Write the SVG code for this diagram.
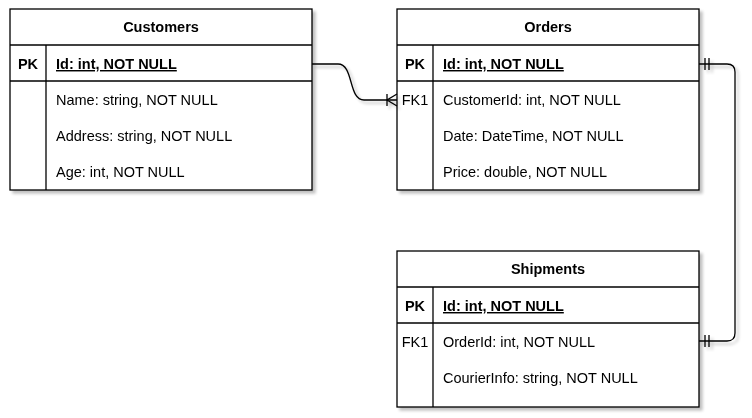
<svg xmlns="http://www.w3.org/2000/svg" width="752" height="418" viewBox="0 0 752 418">
<defs>
<filter id="sh" x="-10%" y="-10%" width="130%" height="130%">
<feGaussianBlur in="SourceAlpha" stdDeviation="1.5"/>
<feOffset dx="3" dy="3" result="b"/>
<feComponentTransfer><feFuncA type="linear" slope="0.25"/></feComponentTransfer>
<feMerge><feMergeNode/><feMergeNode in="SourceGraphic"/></feMerge>
</filter>
</defs>
<style>
.box{fill:#fff;stroke:#000;stroke-width:1.3}
.ln{stroke:#000;stroke-width:1.3;fill:none}
text{font-family:"Liberation Sans",Arial,sans-serif;font-size:14.5px;fill:#000}
.t{font-weight:bold;text-anchor:middle}
.k{font-weight:bold;text-anchor:middle}
.f{text-anchor:middle}
.pk{font-weight:bold;text-decoration:underline}
.c{stroke:#000;stroke-width:1.3;fill:none}
</style>
<g id="customers" filter="url(#sh)">
<rect class="box" x="10" y="9" width="302" height="181"/>
<line class="ln" x1="10" y1="45" x2="312" y2="45"/>
<line class="ln" x1="10" y1="81" x2="312" y2="81"/>
<line class="ln" x1="46" y1="45" x2="46" y2="190"/>
<text class="t" x="161" y="32">Customers</text>
<text class="k" x="28" y="69">PK</text>
<text class="pk" x="56" y="69">Id: int, NOT NULL</text>
<text x="56" y="105">Name: string, NOT NULL</text>
<text x="56" y="141">Address: string, NOT NULL</text>
<text x="56" y="177">Age: int, NOT NULL</text>
</g>
<g id="orders" filter="url(#sh)">
<rect class="box" x="397" y="9" width="302" height="181"/>
<line class="ln" x1="397" y1="45" x2="699" y2="45"/>
<line class="ln" x1="397" y1="81" x2="699" y2="81"/>
<line class="ln" x1="433" y1="45" x2="433" y2="190"/>
<text class="t" x="548" y="32">Orders</text>
<text class="k" x="415" y="69">PK</text>
<text class="pk" x="443" y="69">Id: int, NOT NULL</text>
<text class="f" x="415" y="105">FK1</text>
<text x="443" y="105">CustomerId: int, NOT NULL</text>
<text x="443" y="141">Date: DateTime, NOT NULL</text>
<text x="443" y="177">Price: double, NOT NULL</text>
</g>
<g id="shipments" filter="url(#sh)">
<rect class="box" x="397" y="251" width="302" height="156"/>
<line class="ln" x1="397" y1="287" x2="699" y2="287"/>
<line class="ln" x1="397" y1="323" x2="699" y2="323"/>
<line class="ln" x1="433" y1="287" x2="433" y2="407"/>
<text class="t" x="548" y="274">Shipments</text>
<text class="k" x="415" y="311">PK</text>
<text class="pk" x="443" y="311">Id: int, NOT NULL</text>
<text class="f" x="415" y="347">FK1</text>
<text x="443" y="347">OrderId: int, NOT NULL</text>
<text x="443" y="383">CourierInfo: string, NOT NULL</text>
</g>
<g id="connectors" filter="url(#sh)">
<path class="c" d="M312,64 H338 C354,64 348,100 364,100 H397"/>
<path class="c" d="M397,94 L387,100 L397,106 M387,94 V106"/>
<path class="c" d="M699,64 H727 Q735,64 735,72 V333 Q735,341 727,341 H699"/>
<path class="c" d="M705,58 V70 M709,58 V70 M705,335 V347 M709,335 V347"/>
</g>
</svg>
